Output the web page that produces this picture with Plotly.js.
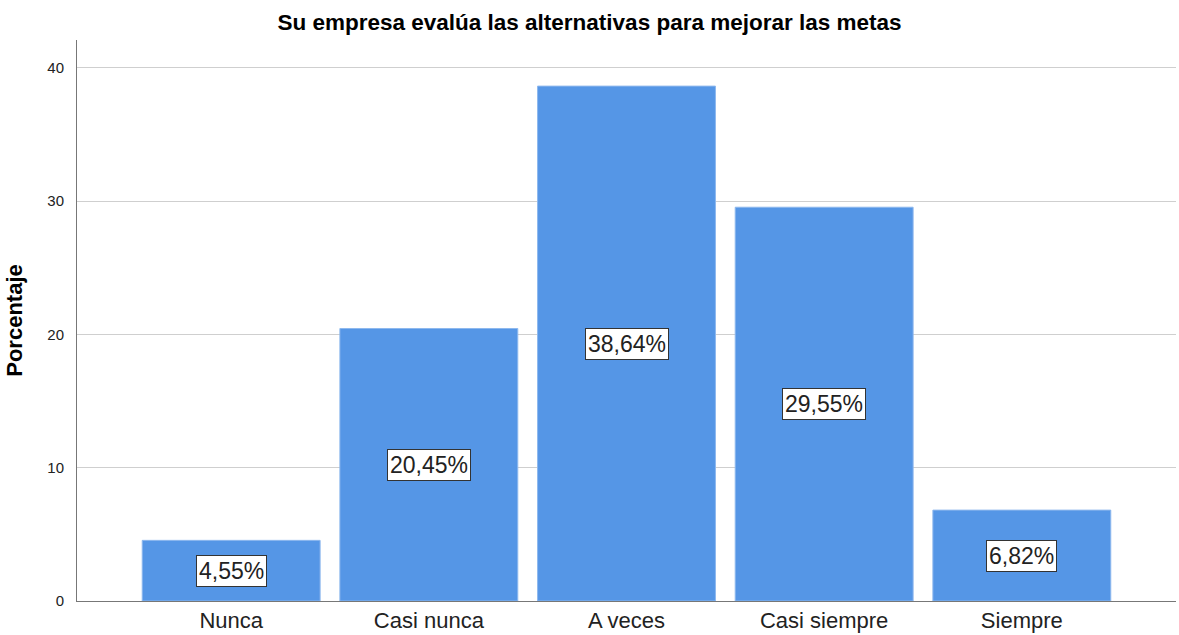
<!DOCTYPE html>
<html>
<head>
<meta charset="utf-8">
<script src="https://cdn.plot.ly/plotly-3.0.1.min.js"></script>
<style>html,body{margin:0;padding:0;background:#fff;}#chart{width:1179px;height:635px;}</style>
</head>
<body>
<div id="chart"></div>
<script>
var categories = ["Nunca", "Casi nunca", "A veces", "Casi siempre", "Siempre"];
var percentages = [4.55, 20.45, 38.64, 29.55, 6.82];
var labels = ["4,55%", "20,45%", "38,64%", "29,55%", "6,82%"];
var yTicks = [0, 10, 20, 30, 40];

var trace = {
  type: "bar",
  x: categories,
  y: percentages,
  width: 0.9,
  marker: {color: "#5596E6", line: {color: "#8db8ee", width: 1}},
  hoverinfo: "none"
};

var annotations = categories.map(function (c, i) {
  return {
    x: c, y: percentages[i] / 2, xref: "x", yref: "y",
    text: labels[i], showarrow: false,
    font: {family: "Arial, Liberation Sans, sans-serif", size: 23, color: "#222"},
    bgcolor: "#ffffff", bordercolor: "#333333", borderwidth: 1, borderpad: 2
  };
});

var layout = {
  width: 1179, height: 635,
  margin: {l: 77, r: 3, t: 40, b: 34},
  paper_bgcolor: "#ffffff", plot_bgcolor: "#ffffff",
  showlegend: false,
  title: {
    text: "<b>Su empresa evalúa las alternativas para mejorar las metas</b>",
    font: {family: "Arial, Liberation Sans, sans-serif", size: 22.5, color: "#000"},
    x: 0.5, xanchor: "center", y: 0.965, yanchor: "middle"
  },
  xaxis: {
    type: "category",
    range: [-0.78, 4.78],
    showgrid: false,
    showline: true, linecolor: "#777", linewidth: 1,
    ticks: "",
    tickfont: {family: "Arial, Liberation Sans, sans-serif", size: 22, color: "#222"},
    fixedrange: true
  },
  yaxis: {
    range: [0, 42.1],
    tickvals: yTicks,
    ticktext: yTicks.map(String),
    showgrid: true, gridcolor: "#cfcfcf", gridwidth: 1,
    showline: true, linecolor: "#777", linewidth: 1,
    zeroline: false,
    ticks: "",
    ticklabelstandoff: 9,
    tickfont: {family: "Arial, Liberation Sans, sans-serif", size: 15, color: "#222"},
    title: {
      text: "<b>Porcentaje</b>",
      font: {family: "Arial, Liberation Sans, sans-serif", size: 22, color: "#000"},
      standoff: 18
    },
    fixedrange: true
  },
  annotations: annotations
};

Plotly.newPlot("chart", [trace], layout, {displayModeBar: false, staticPlot: true});
</script>
</body>
</html>
